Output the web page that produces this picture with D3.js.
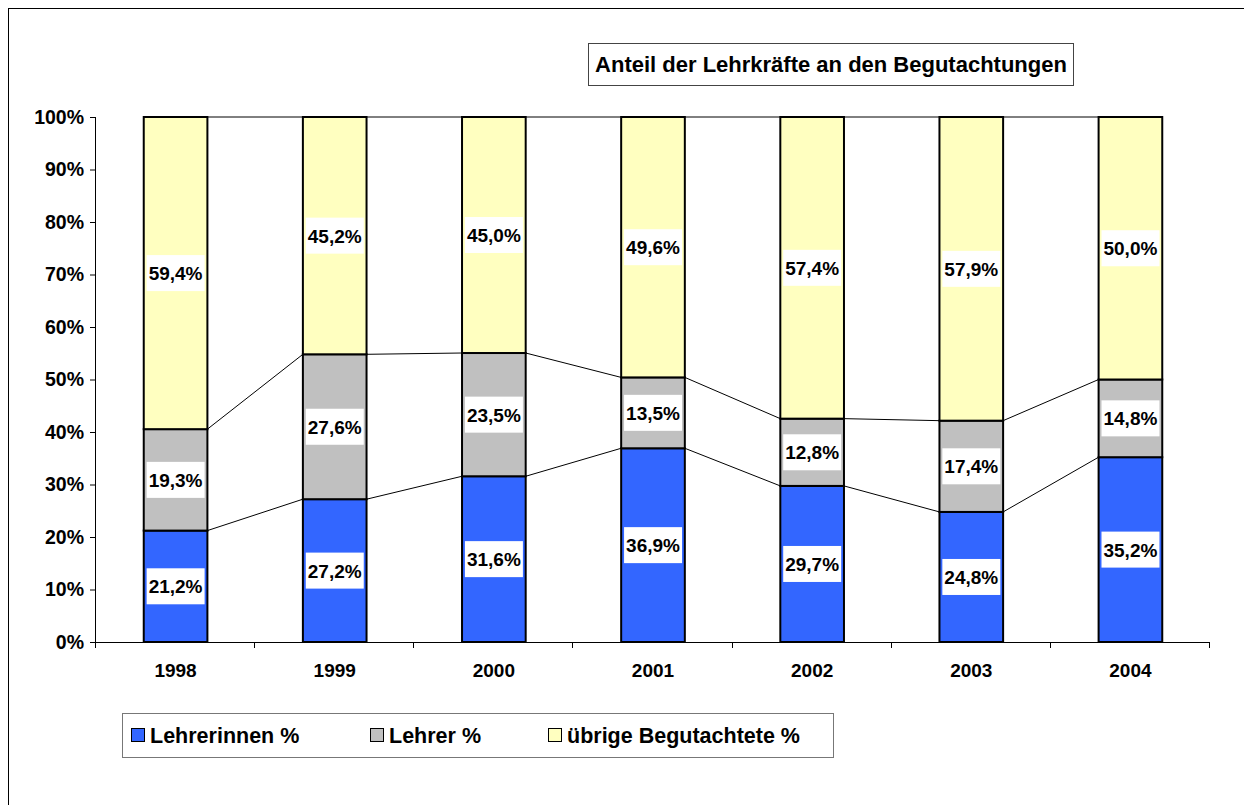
<!DOCTYPE html>
<html>
<head>
<meta charset="utf-8">
<script src="https://cdn.jsdelivr.net/npm/d3@7"></script>
<style>
body { margin: 0; background: #fff; }
text { font-family: "Liberation Sans", Arial, sans-serif; font-weight: bold; }
</style>
</head>
<body>
<div id="chart"></div>
<script>
var outerWidth = 1244,
    outerHeight = 805,
    margin = {top: 117, left: 96},
    width1 = 1210 - 96,
    height1 = 642 - 117;

var data = [
    {year: "1998", lehrerinnen: 21.2, lehrer: 19.3, uebrige: 59.4},
    {year: "1999", lehrerinnen: 27.2, lehrer: 27.6, uebrige: 45.2},
    {year: "2000", lehrerinnen: 31.6, lehrer: 23.5, uebrige: 45.0},
    {year: "2001", lehrerinnen: 36.9, lehrer: 13.5, uebrige: 49.6},
    {year: "2002", lehrerinnen: 29.7, lehrer: 12.8, uebrige: 57.4},
    {year: "2003", lehrerinnen: 24.8, lehrer: 17.4, uebrige: 57.9},
    {year: "2004", lehrerinnen: 35.2, lehrer: 14.8, uebrige: 50.0}
];

var keys = ["lehrerinnen", "lehrer", "uebrige"],
    names = {lehrerinnen: "Lehrerinnen %", lehrer: "Lehrer %", uebrige: "übrige Begutachtete %"},
    colors = {lehrerinnen: "#3366ff", lehrer: "#c0c0c0", uebrige: "#ffffc0"};

var series = d3.stack().keys(keys).offset(d3.stackOffsetExpand)(data);

var x = d3.scaleBand()
    .domain(data.map(function(d) { return d.year; }))
    .range([0, width1])
    .paddingInner(0.6)
    .paddingOuter(0.3);

var y = d3.scaleLinear()
    .domain([0, 1])
    .range([height1, 0]);

var svg = d3.select("#chart").append("svg")
    .attr("width", outerWidth)
    .attr("height", outerHeight);

// outer frame (right/bottom run off the picture)
svg.append("rect")
    .attr("x", 8.5).attr("y", 8.5)
    .attr("width", 1300).attr("height", 900)
    .style("fill", "none").style("stroke", "#000").style("stroke-width", 1);

// title box
var tg = svg.append("g");
tg.append("rect")
    .attr("x", 588.5).attr("y", 43.5)
    .attr("width", 485).attr("height", 42)
    .style("fill", "#fff").style("stroke", "#444").style("stroke-width", 1);
tg.append("text")
    .attr("x", 831).attr("y", 72)
    .style("text-anchor", "middle")
    .style("font-size", "22px")
    .text("Anteil der Lehrkräfte an den Begutachtungen");

var g = svg.append("g")
    .attr("transform", "translate(" + margin.left + "," + margin.top + ")");

// y axis
var yAxis = d3.axisLeft(y)
    .tickValues(d3.range(0, 1.01, 0.1))
    .tickFormat(d3.format(".0%"))
    .tickSize(6)
    .tickPadding(6);
var gY = g.append("g").call(yAxis);
gY.select(".domain").attr("d", "M-0.5,0V" + height1).style("stroke", "#000");
gY.selectAll(".tick line").style("stroke", "#000");
gY.selectAll(".tick text").style("font-size", "19.5px").style("fill", "#000")
    .style("font-family", "'Liberation Sans', Arial, sans-serif").style("font-weight", "bold");

// x axis
var gX = g.append("g").attr("transform", "translate(0," + height1 + ")");
gX.append("line")
    .attr("x1", 0).attr("x2", width1).attr("y1", 0.5).attr("y2", 0.5)
    .style("stroke", "#000");
gX.selectAll(".xt")
    .data(d3.range(0, data.length + 1))
    .enter().append("line")
    .attr("x1", function(i) { return Math.round(i * width1 / data.length) - 0.5; })
    .attr("x2", function(i) { return Math.round(i * width1 / data.length) - 0.5; })
    .attr("y1", 0).attr("y2", 6)
    .style("stroke", "#000");
gX.selectAll(".xl")
    .data(data)
    .enter().append("text")
    .attr("x", function(d) { return x(d.year) + x.bandwidth() / 2; })
    .attr("y", 35)
    .style("text-anchor", "middle")
    .style("font-size", "19px")
    .text(function(d) { return d.year; });

// series lines between bars
[0, 1, 2].forEach(function(k) {
    var s = series[k];
    for (var i = 0; i < data.length - 1; i++) {
        g.append("line")
            .attr("x1", x(data[i].year) + x.bandwidth())
            .attr("y1", y(s[i][1]))
            .attr("x2", x(data[i + 1].year))
            .attr("y2", y(s[i + 1][1]))
            .style("stroke", "#000").style("stroke-width", 1);
    }
});

// bars
var layer = g.selectAll(".layer")
    .data(series)
    .enter().append("g")
    .attr("class", "layer")
    .style("fill", function(d) { return colors[d.key]; });

layer.selectAll("rect")
    .data(function(d) { return d; })
    .enter().append("rect")
    .attr("x", function(d) { return x(d.data.year); })
    .attr("y", function(d) { return y(d[1]); })
    .attr("width", x.bandwidth())
    .attr("height", function(d) { return y(d[0]) - y(d[1]); })
    .style("stroke", "#000")
    .style("stroke-width", 2);

// value labels with white box
series.forEach(function(s) {
    s.forEach(function(d) {
        var cx = x(d.data.year) + x.bandwidth() / 2,
            cy = y((d[0] + d[1]) / 2);
        var lbl = d3.format(".1f")(d.data[s.key]).replace(".", ",") + "%";
        var t = g.append("text")
            .attr("x", cx).attr("y", cy + 7)
            .style("text-anchor", "middle")
            .style("font-size", "19px")
            .text(lbl);
        var bb = t.node().getBBox();
        g.insert("rect", function() { return t.node(); })
            .attr("x", bb.x - 2).attr("y", cy - 18)
            .attr("width", bb.width + 4).attr("height", 36)
            .style("fill", "#fff");
    });
});

// legend
var lg = svg.append("g");
lg.append("rect")
    .attr("x", 122.5).attr("y", 713.5)
    .attr("width", 711).attr("height", 44)
    .style("fill", "#fff").style("stroke", "#777").style("stroke-width", 1);
var legendX = {lehrerinnen: 131, lehrer: 370, uebrige: 548};
keys.forEach(function(k) {
    lg.append("rect")
        .attr("x", legendX[k] + 0.5).attr("y", 728.5)
        .attr("width", 13).attr("height", 13)
        .style("fill", colors[k]).style("stroke", "#000").style("stroke-width", 1);
    lg.append("text")
        .attr("x", legendX[k] + 19).attr("y", 743)
        .style("font-size", "21.5px")
        .text(names[k]);
});
</script>
</body>
</html>
